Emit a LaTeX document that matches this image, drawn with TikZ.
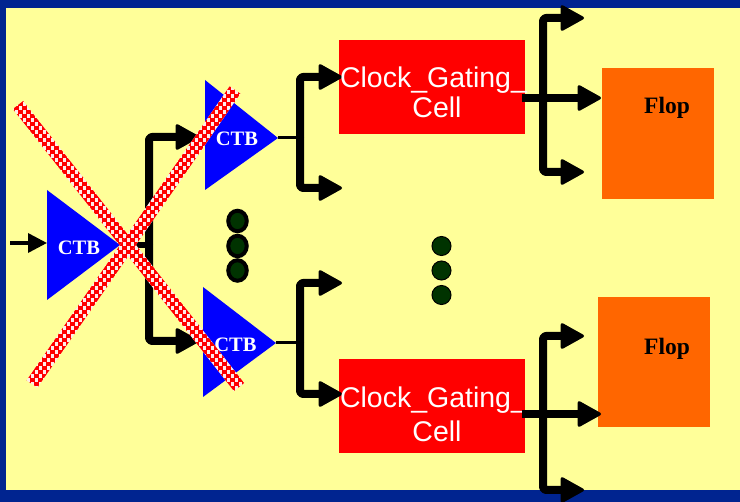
\documentclass[tikz,border=0pt]{standalone}
\usepackage{fontspec}
\setmainfont{Liberation Serif}
\newfontfamily\sansf{Liberation Sans}
\usetikzlibrary{arrows.meta,calc,shapes.geometric}
\definecolor{navy}{RGB}{0,36,144}
\definecolor{paper}{RGB}{255,255,153}
\definecolor{flopc}{RGB}{255,102,0}
\definecolor{dotc}{RGB}{0,51,0}
\definecolor{ctbblue}{RGB}{0,0,255}
\tikzset{
  x=1pt,y=-1pt,
  heavy/.style={line width=8pt,rounded corners=3pt,-{Triangle[length=25pt,width=27pt,line width=3pt,round]},line join=round},
  thinlead/.style={line width=3pt},
  inarrow/.style={line width=3.5pt,-{Triangle[length=19pt,width=19pt]}},
  ctbshape/.style={fill=ctbblue,draw=none},
  ctblabel/.style={text=white,font=\bfseries\fontsize{20.5}{22}\selectfont,inner sep=0pt},
  gate/.style={fill=red,draw=none,minimum width=186pt,minimum height=94pt,inner sep=0pt},
  gatelabel/.style={text=white,inner sep=0pt,font=\sansf\fontsize{28.5}{33}\selectfont},
  flopbox/.style={fill=flopc,draw=none,minimum width=112pt,minimum height=131pt,inner sep=0pt},
  floplabel/.style={text=black,font=\bfseries\fontsize{23.5}{25}\selectfont,inner sep=0pt},
  ellipsis/.style={ellipse,fill=dotc,draw=black,line width=4pt,minimum width=18.500pt,minimum height=20.500pt,inner sep=0pt},
  ellipsisb/.style={circle,fill=dotc,draw=black,line width=1pt,minimum size=19pt,inner sep=0pt},
  stripecheck/.style={line width=4.500pt,draw=red,dash pattern=on 4.500pt off 3.500pt},
}
\newcommand{\checkstripe}[2]{%
  \begin{scope}
    \clip ($(#1)!6.500pt!90:(#2)$) -- ($(#2)!6.500pt!-90:(#1)$) -- ($(#2)!6.500pt!90:(#1)$) -- ($(#1)!6.500pt!-90:(#2)$) -- cycle;
    \fill[white!92!red] (10,80) rectangle (250,400);
    \foreach \yy [count=\ii] in {80,84,...,400} {
      \ifodd\ii
        \draw[stripecheck] (10,\yy) -- (250,\yy);
      \else
        \draw[stripecheck,dash phase=4pt] (10,\yy) -- (250,\yy);
      \fi
    }
  \end{scope}
}
\begin{document}
\begin{tikzpicture}
\useasboundingbox (0,0) rectangle (740,502);
\fill[paper] (0,0) rectangle (740,502);
\fill[navy] (0,0) rectangle (740,8);
\fill[navy] (0,490) rectangle (740,502);
\fill[navy] (0,0) rectangle (6,502);

% free ends and junctions
\coordinate (in) at (10,243);
\coordinate (a) at (47,243);
\coordinate (atip) at (120,245);
\coordinate (trunk) at (149,245);
\coordinate (btip) at (278,138);
\coordinate (bfork) at (300,138);
\coordinate (ctip) at (276,343);
\coordinate (cfork) at (300,343);
\coordinate (bin) at (199,137);
\coordinate (cin) at (199,341);
\coordinate (b2) at (342,188);
\coordinate (c1) at (342,283);
\coordinate (g1up) at (342,77);
\coordinate (g2up) at (342,394);

% triangles
\fill[ctbshape] (47,190) -- (47,300) -- (atip) -- cycle;
\fill[ctbshape] (205,80) -- (205,190) -- (btip) -- cycle;
\fill[ctbshape] (203,287) -- (203,397) -- (ctip) -- cycle;
\node[ctblabel] (ctba) at (79,248) {CTB};
\node[ctblabel] (ctbb) at (237,139) {CTB};
\node[ctblabel] (ctbc) at (235.500,345) {CTB};

% boxes
\node[gate] (gatea) at (432,87) {};
\node[gate] (gateb) at (432,406) {};
\node[flopbox] (flopa) at (658,133.500) {};
\node[flopbox,minimum height=130pt] (flopb) at (654,362) {};
\node[floplabel] at (667,108) {Flop};
\node[floplabel] at (667,349) {Flop};

% connectors
\draw[inarrow] (in) -- (a);
\draw[line width=6pt] (atip) -- (trunk);
\draw[heavy] (trunk) |- (bin);
\draw[heavy] (trunk) |- (cin);
\draw[thinlead] (btip) -- (bfork);
\draw[heavy] (bfork) |- (g1up);
\draw[heavy] (bfork) |- (b2);
\draw[thinlead] (ctip) -- (cfork);
\draw[heavy] (cfork) |- (c1);
\draw[heavy] (cfork) |- (g2up);

% gate labels
\node[gatelabel] at (433.500,80) {Clock\_Gating\_};
\node[gatelabel] at (437,107) {Cell};
\node[gatelabel] at (433.500,400) {Clock\_Gating\_};
\node[gatelabel] at (437,431) {Cell};

\coordinate (aout) at (522,98);
\coordinate (afork) at (543,98);
\coordinate (aflop) at (601,98);
\coordinate (aup) at (584,18);
\coordinate (adown) at (584,172);
\draw[heavy] (aout) -- (aflop);
\draw[heavy] (afork) |- (aup);
\draw[heavy] (afork) |- (adown);
\coordinate (bout) at (522,414);
\coordinate (bforkr) at (543,414);
\coordinate (bflop) at (601,414);
\coordinate (bup) at (584,336);
\coordinate (bdown) at (584,490);
\draw[heavy] (bout) -- (bflop);
\draw[heavy] (bforkr) |- (bup);
\draw[heavy] (bforkr) |- (bdown);

% ellipsis dots
\node[ellipsis] (d1) at (237.500,221) {};
\node[ellipsis] (d2) at (237.500,246) {};
\node[ellipsis] (d3) at (237.500,270.500) {};
\node[ellipsisb] (e1) at (441.500,246) {};
\node[ellipsisb] (e2) at (441.500,270.500) {};
\node[ellipsisb] (e3) at (441.500,295) {};

% crossed-out stripes
\coordinate (xa) at (18,105);
\coordinate (xb) at (239,387);
\coordinate (xc) at (235,90);
\coordinate (xd) at (32,384);
\checkstripe{xa}{xb}
\checkstripe{xc}{xd}
\end{tikzpicture}
\end{document}
